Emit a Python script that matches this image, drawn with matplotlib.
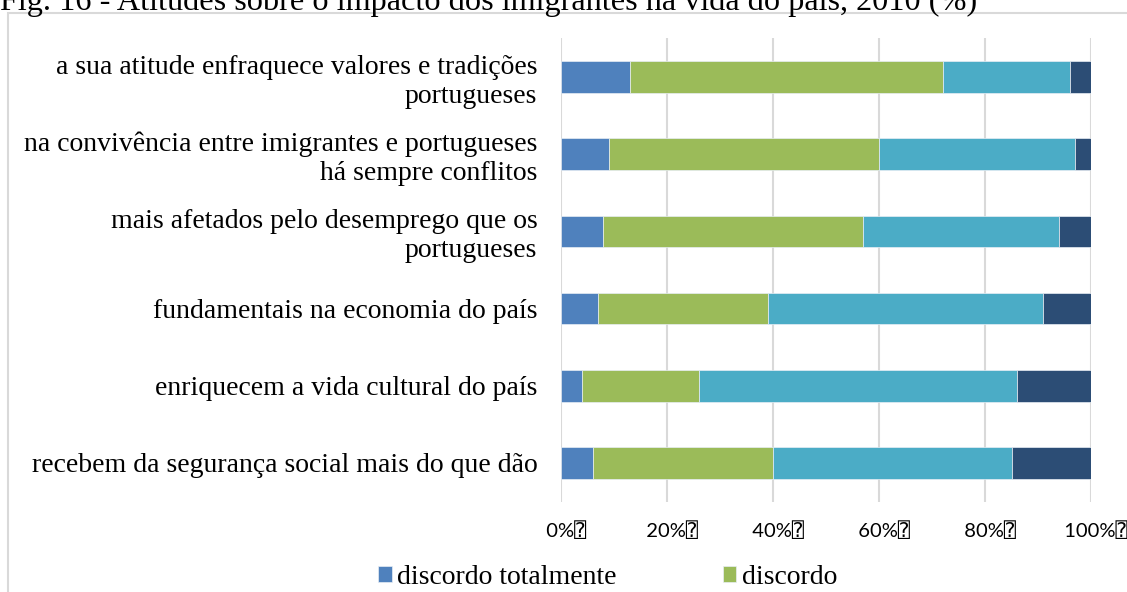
import matplotlib
matplotlib.use('Agg')
import matplotlib.pyplot as plt
import matplotlib.patches as mpatches
import numpy as np

# Atitudes sobre o impacto dos imigrantes (%)
categories = [
    'a sua atitude enfraquece valores e tradições\nportugueses',
    'na convivência entre imigrantes e portugueses\nhá sempre conflitos',
    'mais afetados pelo desemprego que os\nportugueses',
    'fundamentais na economia do país',
    'enriquecem a vida cultural do país',
    'recebem da segurança social mais do que dão',
]
discordo_totalmente = [13, 9, 8, 7, 4, 6]
discordo = [59, 51, 49, 32, 22, 34]
concordo = [24, 37, 37, 52, 60, 45]
concordo_totalmente = [4, 3, 6, 9, 14, 15]

series = [discordo_totalmente, discordo, concordo, concordo_totalmente]
series_names = ['discordo totalmente', 'discordo', 'concordo', 'concordo totalmente']
colors = ['#4f81bd', '#9bbb59', '#4bacc6', '#2c4d75']

x_ticks = [0, 20, 40, 60, 80, 100]

serif = 'Liberation Serif'

fig = plt.figure(figsize=(11.27, 5.92), dpi=100)
W, H = 1127, 592

# axes placed in pixel terms
left, right, top, bottom = 561, 1091, 38.4, 501.6
ax = fig.add_axes([left / W, 1 - bottom / H, (right - left) / W, (bottom - top) / H])

y = np.arange(len(categories))
cum = np.zeros(len(categories))
handles = []
for vals, name, c in zip(series, series_names, colors):
    b = ax.barh(y, vals, left=cum, height=0.41, color=c, edgecolor='#e8eef5',
                linewidth=0.5, label=name, zorder=3)
    handles.append(b)
    cum += np.array(vals)

ax.set_xlim(0, 100)
ax.set_ylim(len(categories) - 0.5, -0.5)
ax.set_xticks(x_ticks)
# leading spaces nudge the labels right, as in the reference
ax.set_xticklabels([f'  {t}%\u2370' for t in x_ticks],
                   fontfamily=['Lato', 'DejaVu Sans', 'DejaVu Sans Mono'], fontsize=14.5)
ax.set_yticks(y)
ax.set_yticklabels(categories, fontfamily=serif, fontsize=20, linespacing=1.2)
ax.tick_params(axis='both', length=0)
ax.tick_params(axis='y', pad=17)
ax.tick_params(axis='x', pad=14)
ax.grid(axis='x', color='#d9d9d9', linewidth=1.5, zorder=0)
for s in ax.spines.values():
    s.set_visible(False)

# outer chart frame (cropped at right and bottom)
frame = mpatches.Rectangle((8 / W, -0.1), 1.2, 1 - 13 / H + 0.1, transform=fig.transFigure,
                           fill=False, edgecolor='#d9d9d9', linewidth=1.5)
fig.patches.append(frame)

fig.text(0, 1 - 10 / H, 'Fig. 16 - Atitudes sobre o impacto dos imigrantes na vida do país, 2010 (%)',
         fontfamily=serif, fontsize=23.2, va='baseline', ha='left')

fig.legend(handles[:2], series_names[:2], loc='center left',
           bbox_to_anchor=(378 / W, 1 - 577 / H), ncol=2, frameon=False,
           prop={'family': serif, 'size': 20}, handlelength=0.5, handleheight=0.5,
           handletextpad=0.2, columnspacing=3.8, borderaxespad=0, borderpad=0)

fig.savefig('out.png', dpi=100)
